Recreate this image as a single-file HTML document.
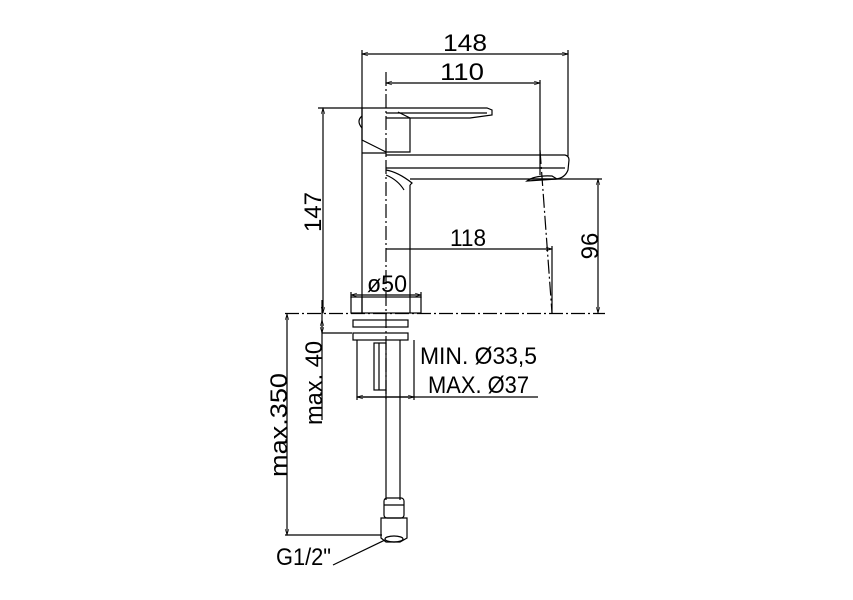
<!DOCTYPE html>
<html><head><meta charset="utf-8"><style>
html,body{margin:0;padding:0;background:#fff;}
svg{display:block;}
text{font-family:"Liberation Sans",sans-serif;font-size:24px;fill:#000;}
</style></head><body>
<svg width="853" height="600" viewBox="0 0 853 600" xmlns="http://www.w3.org/2000/svg">
<defs>
<marker id="a" viewBox="0 0 10 10" refX="10" refY="5" markerWidth="7" markerHeight="5" orient="auto-start-reverse"><path d="M0,2 L10,5 L0,8" fill="none" stroke="#000" stroke-width="1"/></marker>
</defs>
<g stroke="#000" stroke-width="1.2" fill="none">
<line x1="386" y1="72" x2="386" y2="400" stroke-dasharray="14,3,2,3"/>
<line x1="285" y1="313.5" x2="605" y2="313.5" stroke-dasharray="14,3,2,3"/>
<line x1="540" y1="150" x2="552" y2="313" stroke-dasharray="14,3,2,3"/>
<line x1="362" y1="50" x2="362" y2="313"/>
<line x1="568" y1="50" x2="568" y2="156"/>
<line x1="540" y1="80" x2="540" y2="175"/>
<line x1="552" y1="246" x2="552" y2="313"/>
<line x1="318" y1="108" x2="362" y2="108"/>
<line x1="530" y1="179" x2="602" y2="179"/>
<line x1="351" y1="292" x2="351" y2="298"/>
<line x1="421" y1="292" x2="421" y2="298"/>
<line x1="362" y1="54" x2="568" y2="54" marker-start="url(#a)" marker-end="url(#a)"/>
<line x1="386" y1="83" x2="540" y2="83" marker-start="url(#a)" marker-end="url(#a)"/>
<line x1="386" y1="249" x2="552" y2="249" marker-end="url(#a)"/>
<line x1="323" y1="108" x2="323" y2="313" marker-start="url(#a)" marker-end="url(#a)"/>
<line x1="598" y1="179" x2="598" y2="313" marker-start="url(#a)" marker-end="url(#a)"/>
<line x1="351" y1="295" x2="421" y2="295" marker-start="url(#a)" marker-end="url(#a)"/>
<path d="M362,108 L487,108 L492,110 L492,115 L470,118 L386,118"/>
<line x1="386" y1="113" x2="487" y2="113"/>
<path d="M362,108 L362,140 L386,152 L410,152 L410,118 L398,112"/>
<path d="M362,116 Q356,121 362,128"/>
<path d="M362,153 L386,153 L386,155 L565,155 Q569,156 569,160 L568,170 Q565,178 556,179 L410,179"/>
<line x1="386" y1="168" x2="565" y2="168"/>
<path d="M386,170 Q398,172 412,183 L410,185"/>
<path d="M386,175 Q398,180 404,190"/>
<path d="M527,181 Q535,175 552,176 L557,179 Z"/>
<line x1="410" y1="185" x2="410" y2="297"/>
<rect x="351" y="297" width="70" height="16"/>
<line x1="362" y1="297" x2="362" y2="313"/>
<line x1="410" y1="297" x2="410" y2="313"/>
<rect x="353" y="320" width="55" height="7"/>
<rect x="353" y="333" width="55" height="7"/>
<line x1="357" y1="340" x2="357" y2="400"/>
<line x1="414" y1="340" x2="414" y2="400"/>
<rect x="374" y="343" width="12" height="47"/>
<line x1="379" y1="343" x2="379" y2="390"/>
<line x1="386" y1="390" x2="386" y2="500"/>
<line x1="400" y1="340" x2="400" y2="500"/>
<rect x="384" y="498" width="20" height="20" rx="3"/>
<line x1="384" y1="505" x2="404" y2="505"/>
<path d="M381,518 L407,518 L407,538 L400,542 L386,542 L381,538 Z"/>
<ellipse cx="394" cy="539" rx="9" ry="3"/>
<line x1="322" y1="300" x2="322" y2="420"/>
<line x1="322" y1="333" x2="352" y2="333"/>
<line x1="322" y1="320" x2="322" y2="333" marker-start="url(#a)" marker-end="url(#a)"/>
<line x1="357" y1="397" x2="538" y2="397"/>
<line x1="357" y1="397" x2="414" y2="397" marker-start="url(#a)" marker-end="url(#a)"/>
<line x1="287" y1="314" x2="287" y2="535" marker-start="url(#a)" marker-end="url(#a)"/>
<line x1="285" y1="535" x2="382" y2="535"/>
<line x1="333" y1="565" x2="385" y2="540"/>
</g>
<g>
<text x="443" y="51" textLength="44" lengthAdjust="spacingAndGlyphs">148</text>
<text x="440" y="80" textLength="44" lengthAdjust="spacingAndGlyphs">110</text>
<text x="450" y="246" textLength="36" lengthAdjust="spacingAndGlyphs">118</text>
<text x="367" y="292" textLength="40" lengthAdjust="spacingAndGlyphs">ø50</text>
<text transform="translate(321,212) rotate(-90)" text-anchor="middle">147</text>
<text transform="translate(598,246) rotate(-90)" text-anchor="middle">96</text>
<text transform="translate(322,383) rotate(-90)" x="-42" textLength="84" lengthAdjust="spacingAndGlyphs">max. 40</text>
<text transform="translate(287,425) rotate(-90)" x="-52" textLength="104" lengthAdjust="spacingAndGlyphs">max.350</text>
<text x="420" y="364" textLength="117" lengthAdjust="spacingAndGlyphs">MIN. Ø33,5</text>
<text x="428" y="393" textLength="101" lengthAdjust="spacingAndGlyphs">MAX. Ø37</text>
<text x="276" y="565" textLength="55" lengthAdjust="spacingAndGlyphs">G1/2"</text>
</g>
</svg>
</body></html>
